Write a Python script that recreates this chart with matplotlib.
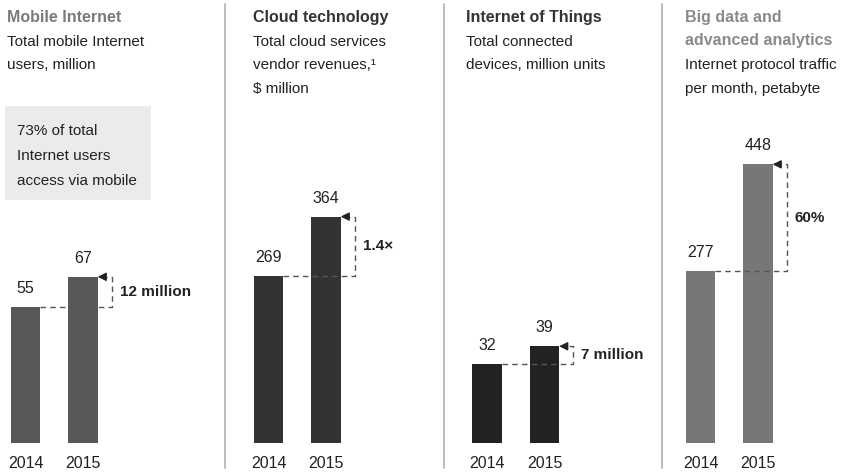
import matplotlib
matplotlib.use("Agg")
import matplotlib.pyplot as plt
from matplotlib.patches import Rectangle

plt.rcParams['font.family'] = ['Liberation Sans', 'DejaVu Sans']

# data
years = ['2014', '2015']
mobile_users = [55, 67]
cloud_revenue = [269, 364]
iot_devices = [32, 39]
ip_traffic = [277, 448]
change_labels = ['12 million', '1.4×', '7 million', '60%']

titles = [
    (['Mobile Internet'], ['Total mobile Internet', 'users, million']),
    (['Cloud technology'], ['Total cloud services', 'vendor revenues,¹', '$ million']),
    (['Internet of Things'], ['Total connected', 'devices, million units']),
    (['Big data and', 'advanced analytics'], ['Internet protocol traffic', 'per month, petabyte']),
]
title_colors = ['#7a7a7a', '#333333', '#333333', '#8a8a8a']
bar_colors = ['#585858', '#333333', '#222222', '#777777']
series = [mobile_users, cloud_revenue, iot_devices, ip_traffic]

W, H = 847, 472
fig = plt.figure(figsize=(W / 100, H / 100), dpi=100)


def fx(x):
    return x / W


def fy(y):
    return 1 - y / H


# layout in pixels
unit = 57.5
bar_w = 0.51
ax_top, ax_bot = 100, 443
panel_left = [0, 224, 444, 662]
first_bar = [25.5, 268.5, 487, 700.5]
text_left = [7, 253, 466, 685]
px_per_val = [2.48, 0.622, 2.48, 0.622]
ax_w = 215
fs = 11

for i in range(4):
    ax = fig.add_axes([fx(panel_left[i]), fy(ax_bot), fx(ax_w), (ax_bot - ax_top) / H])
    x0 = -(first_bar[i] - panel_left[i]) / unit
    ax.set_xlim(x0, x0 + ax_w / unit)
    ax.set_ylim(0, (ax_bot - ax_top) / px_per_val[i])
    vals = series[i]
    xs = range(len(vals))
    ax.bar(xs, vals, width=bar_w, color=bar_colors[i], zorder=2)
    for x, v in zip(xs, vals):
        ax.annotate(str(v), (x, v), xytext=(0, 10), textcoords='offset points',
                    ha='center', va='baseline', fontsize=fs + 0.5, color='#222222')
    v0, v1 = vals
    xe = 1.5
    ax.plot([bar_w / 2, xe, xe, 1 + bar_w / 2 + 0.12], [v0, v0, v1, v1],
            color='#555555', lw=1, ls=(0, (4, 3)), zorder=3)
    ax.annotate('', xy=(1 + bar_w / 2, v1), xytext=(1 + bar_w / 2 + 0.13, v1),
                arrowprops=dict(arrowstyle='-|>,head_length=0.5,head_width=0.25',
                                color='#222222', lw=1, shrinkA=0, shrinkB=0))
    ax.text(1.64, (v0 + v1) / 2, change_labels[i], ha='left', va='center',
            fontsize=fs, fontweight='bold', color='#222222')
    ax.set_xticks(list(xs))
    ax.set_xticklabels(years, fontsize=fs + 0.5, color='#222222')
    ax.tick_params(axis='x', length=0, pad=9)
    ax.set_yticks([])
    for s in ax.spines.values():
        s.set_visible(False)
    ax.patch.set_alpha(0)

    # titles
    y = 22
    for line in titles[i][0]:
        fig.text(fx(text_left[i]), fy(y), line, fontsize=fs + 0.5, fontweight='bold',
                 color=title_colors[i], va='baseline')
        y += 23.5
    for line in titles[i][1]:
        fig.text(fx(text_left[i]), fy(y), line, fontsize=fs, color='#222222', va='baseline')
        y += 23.5

# dividers
for xd in [225, 444, 662]:
    fig.add_artist(plt.Line2D([fx(xd), fx(xd)], [fy(4), fy(468)], color='#b0b0b0', lw=1.2))

# grey note box
fig.add_artist(Rectangle((fx(5), fy(200)), fx(146), 94 / H, transform=fig.transFigure,
                         facecolor='#ebebeb', edgecolor='none', zorder=0))
for yb, line in zip([135, 160, 185], ['73% of total', 'Internet users', 'access via mobile']):
    fig.text(fx(17), fy(yb), line, fontsize=fs, color='#222222', va='baseline')

fig.savefig('out.png', dpi=100)
